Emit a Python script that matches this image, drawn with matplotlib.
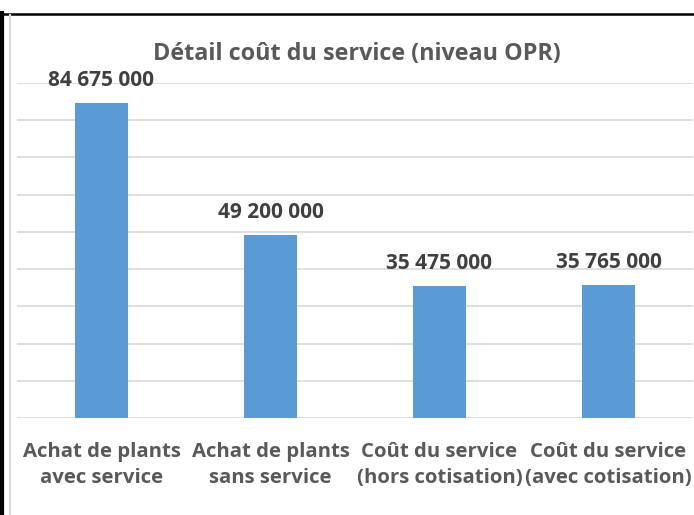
import matplotlib.pyplot as plt
from matplotlib.lines import Line2D
import numpy as np

# --- données ---
categories = ["Achat de plants\navec service", "Achat de plants\nsans service",
              "Coût du service\n(hors cotisation)", "Coût du service\n(avec cotisation)"]
valeurs = [84675000, 49200000, 35475000, 35765000]
y_max = 90000000
y_pas = 10000000

BAR_COLOR = '#5B9BD5'
plt.rcParams['font.family'] = ['Open Sans', 'DejaVu Sans']

fig = plt.figure(figsize=(6.94, 5.15), dpi=100)
ax = fig.add_axes([17 / 694, 1 - 418 / 515, 676 / 694, (418 - 83) / 515])

x = np.arange(len(categories))
ax.bar(x, valeurs, width=0.31, color=BAR_COLOR, zorder=3)

for xi, v in zip(x, valeurs):
    lbl = f"{v:,}".replace(",", " ")
    ax.text(xi, v + y_max * 0.036, lbl, ha='center', va='bottom',
            fontsize=15, fontweight='bold', color='#404040')

ax.set_xlim(-0.5, len(categories) - 0.5)
ax.set_ylim(0, y_max)
ax.set_yticks(np.arange(0, y_max + 1, y_pas))
ax.set_yticklabels([])
ax.tick_params(axis='y', length=0)
ax.tick_params(axis='x', length=0, pad=17)
ax.set_xticks(x)
ax.set_xticklabels(categories, fontsize=14.7, fontweight='bold', color='#595959',
                   linespacing=1.4)
ax.grid(axis='y', color='#D9D9D9', linewidth=1.2, zorder=0)
for s in ax.spines.values():
    s.set_visible(False)

fig.text(357 / 694, 1 - 54 / 515, "Détail coût du service (niveau OPR)",
         ha='center', va='center', fontsize=16.8, fontweight='bold', color='#595959')

# bordures (cadre du tableau + cadre du graphique)
fig.add_artist(Line2D([0, 1], [1 - 14 / 515] * 2, color='black', linewidth=1.8,
                      transform=fig.transFigure))
fig.add_artist(Line2D([2 / 694] * 2, [0, 1 - 13 / 515], color='black', linewidth=3,
                      transform=fig.transFigure))
fig.add_artist(Line2D([10 / 694] * 2, [0, 1 - 15 / 515], color='#D9D9D9', linewidth=1.5,
                      transform=fig.transFigure))

fig.savefig('out.png', dpi=100)
